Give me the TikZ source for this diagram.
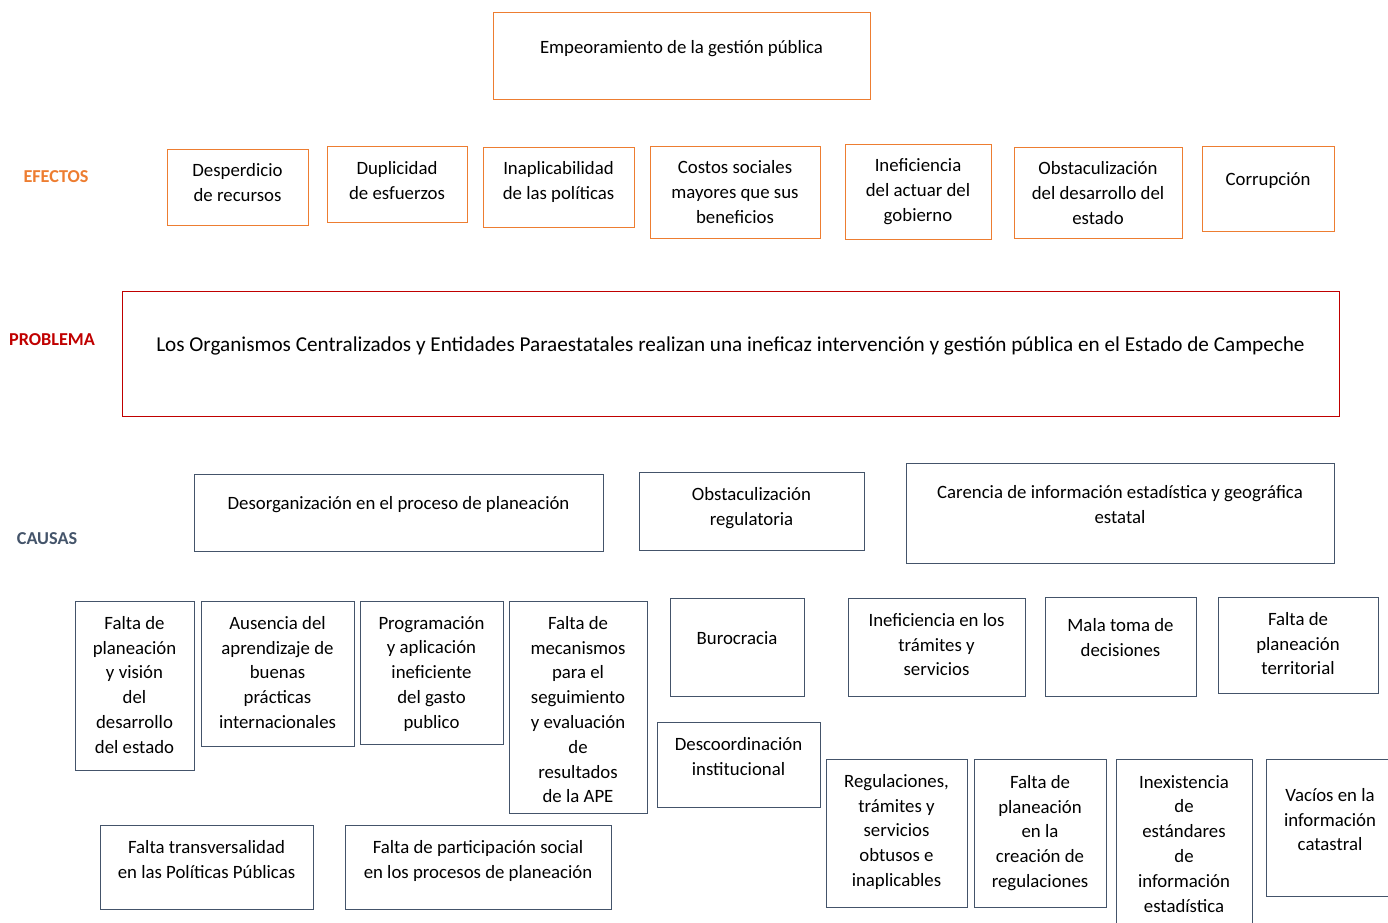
\documentclass[tikz,border=0pt]{standalone}
\usepackage{fontspec}
\setmainfont{Carlito}
\usepackage{tikz}
\definecolor{efecol}{HTML}{ED7D31}
\definecolor{probcol}{HTML}{C00000}
\definecolor{caucol}{HTML}{44546A}

\begin{document}
\begin{tikzpicture}[x=1bp, y=-1bp,
  box/.style={draw, rectangle, inner sep=0pt, line width=0.9bp},
  efe/.style={box, draw=efecol},
  prob/.style={box, draw=probcol},
  cau/.style={box, draw=caucol},
  txt/.style={anchor=north, inner sep=0pt, align=center, text=black, yshift=-6.5bp,
    font=\fontsize{18.8bp}{24.8bp}\selectfont, execute at begin node=\strut},
  tag/.style={inner sep=0pt, font=\fontsize{18.2bp}{21bp}\selectfont\bfseries}]
\useasboundingbox (0,0) rectangle (1388,922);
%%
  \node (top) at (681.5,55.5) [efe, minimum width=377bp, minimum height=87bp] {};
  \node (ttop) at (681.5,29) [txt] {Empeoramiento de la gesti\'on p\'ublica};
%
  \node (lefe) at (56,177) [tag, text=efecol] {EFECTOS};
  \node (lprob) at (52,340) [tag, text=probcol] {PROBLEMA};
  \node (lcau) at (47,539) [tag, text=caucol] {CAUSAS};
%
  \node (e1) at (237.5,187) [efe, minimum width=141bp, minimum height=76bp] {};
  \node (e2) at (397,184) [efe, minimum width=140bp, minimum height=76bp] {};
  \node (e3) at (558.5,187) [efe, minimum width=151bp, minimum height=80bp] {};
  \node (e4) at (735,192) [efe, minimum width=170bp, minimum height=92bp] {};
  \node (e5) at (918,191.5) [efe, minimum width=146bp, minimum height=95bp] {};
  \node (e6) at (1098,192.5) [efe, minimum width=168bp, minimum height=91bp] {};
  \node (e7) at (1268,188.5) [efe, minimum width=132bp, minimum height=85bp] {};
  \node (te1) at (237.5,157) [txt] {Desperdicio\\de recursos};
  \node (te2) at (397,155) [txt] {Duplicidad\\de esfuerzos};
  \node (te3) at (558.5,155) [txt] {Inaplicabilidad\\de las pol\'iticas};
  \node (te4) at (735,154) [txt] {Costos sociales\\mayores que sus\\beneficios};
  \node (te5) at (918,152) [txt] {Ineficiencia\\del actuar del\\gobierno};
  \node (te6) at (1098,155) [txt] {Obstaculizaci\'on\\del desarrollo del\\estado};
  \node (te7) at (1268,161) [txt] {Corrupci\'on};
%
  \node (p) at (730.5,353.5) [prob, minimum width=1217bp, minimum height=125bp] {};
  \node (tp) at (730.5,331) [txt, yshift=4.5bp, font=\fontsize{21.2bp}{26bp}\selectfont]
    {Los Organismos Centralizados y Entidades Paraestatales realizan una ineficaz intervenci\'on y gesti\'on p\'ublica en el Estado de Campeche};
%
  \node (c1) at (398.5,512.5) [cau, minimum width=409bp, minimum height=77bp] {};
  \node (c2) at (751.5,511) [cau, minimum width=225bp, minimum height=78bp] {};
  \node (c3) at (1120,513) [cau, minimum width=428bp, minimum height=100bp] {};
  \node (tc1) at (398.5,485) [txt] {Desorganizaci\'on en el proceso de planeaci\'on};
  \node (tc2) at (751.5,481) [txt] {Obstaculizaci\'on\\regulatoria};
  \node (tc3) at (1120,479) [txt] {Carencia de informaci\'on estad\'istica y geogr\'afica\\estatal};
%
  \node (k1) at (134.5,685.5) [cau, minimum width=119bp, minimum height=169bp] {};
  \node (k2) at (277.5,673.5) [cau, minimum width=153bp, minimum height=145bp] {};
  \node (k3) at (431.5,672.5) [cau, minimum width=143bp, minimum height=143bp] {};
  \node (k4) at (578,707) [cau, minimum width=138bp, minimum height=212bp] {};
  \node (k5) at (737,647) [cau, minimum width=134bp, minimum height=98bp] {};
  \node (k6) at (738.5,764.5) [cau, minimum width=163bp, minimum height=85bp] {};
  \node (k7) at (936.5,647) [cau, minimum width=177bp, minimum height=98bp] {};
  \node (k8) at (1120.5,646.5) [cau, minimum width=151bp, minimum height=99bp] {};
  \node (k9) at (1298,645) [cau, minimum width=160bp, minimum height=96bp] {};
  \node (k10) at (896.5,833) [cau, minimum width=141bp, minimum height=148bp] {};
  \node (k11) at (1040,833) [cau, minimum width=132bp, minimum height=148bp] {};
  \node (k12) at (1184,844.5) [cau, minimum width=136bp, minimum height=171bp] {};
  \node (k13) at (1333,827.5) [cau, minimum width=134bp, minimum height=137bp] {};
  \node (k14) at (206.5,867) [cau, minimum width=213bp, minimum height=84bp] {};
  \node (k15) at (478,867) [cau, minimum width=266bp, minimum height=84bp] {};
%
  \node (tk1) at (134.5,609.5) [txt] {Falta de\\planeaci\'on\\y visi\'on\\del\\desarrollo\\del estado};
  \node (tk2) at (277.5,609.5) [txt] {Ausencia del\\aprendizaje de\\buenas\\pr\'acticas\\internacionales};
  \node (tk3) at (431.5,609.5) [txt] {Programaci\'on\\y aplicaci\'on\\ineficiente\\del gasto\\publico};
  \node (tk4) at (578,609.5) [txt] {Falta de\\mecanismos\\para el\\seguimiento\\y evaluaci\'on\\de\\resultados\\de la APE};
  \node (tk5) at (737,620) [txt] {Burocracia};
  \node (tk6) at (738.5,730.5) [txt] {Descoordinaci\'on\\institucional};
  \node (tk7) at (936.5,606.5) [txt] {Ineficiencia en los\\tr\'amites y\\servicios};
  \node (tk8) at (1120.5,612) [txt] {Mala toma de\\decisiones};
  \node (tk9) at (1298,605.5) [txt] {Falta de\\planeaci\'on\\territorial};
  \node (tk10) at (896.5,767.5) [txt] {Regulaciones,\\tr\'amites y\\servicios\\obtusos e\\inaplicables};
  \node (tk11) at (1040,768.5) [txt] {Falta de\\planeaci\'on\\en la\\creaci\'on de\\regulaciones};
  \node (tk12) at (1184,768.5) [txt] {Inexistencia\\de\\est\'andares\\de\\informaci\'on\\estad\'istica};
  \node (tk13) at (1330,781.5) [txt] {Vac\'ios en la\\informaci\'on\\catastral};
  \node (tk14) at (206.5,833.5) [txt] {Falta transversalidad\\en las Pol\'iticas P\'ublicas};
  \node (tk15) at (478,833.5) [txt] {Falta de participaci\'on social\\en los procesos de planeaci\'on};
%
\end{tikzpicture}
\end{document}
